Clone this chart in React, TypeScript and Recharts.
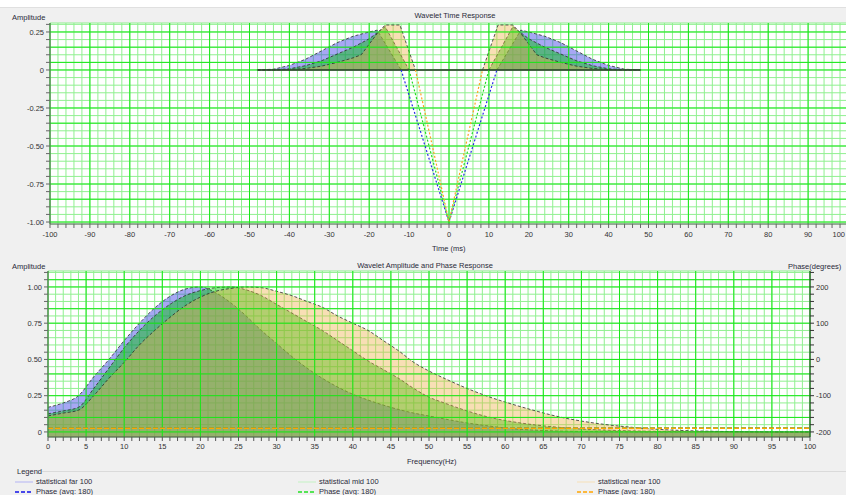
import React from "react";
import { ComposedChart, Area, Line, XAxis, YAxis, CartesianGrid, ReferenceLine } from "recharts";

// Wavelet time response (ms -> amplitude)
const farTime = [-48, -44, -40, -36, -32, -28, -24, -20, -18, -12, -6, 0, 6, 12, 18, 20, 24, 28, 32, 36, 40, 44, 48];
const farAmp = [0, 0.005, 0.03, 0.07, 0.125, 0.18, 0.222, 0.25, 0.262, 0, -0.5, -1, -0.5, 0, 0.262, 0.25, 0.222, 0.18, 0.125, 0.07, 0.03, 0.005, 0];
const midTime = [-48, -44, -40, -36, -32, -28, -24, -20, -16, -10, -5, 0, 5, 10, 16, 20, 24, 28, 32, 36, 40, 44, 48];
const midAmp = [0, 0, 0.008, 0.028, 0.06, 0.105, 0.15, 0.205, 0.285, 0, -0.5, -1, -0.5, 0, 0.285, 0.205, 0.15, 0.105, 0.06, 0.028, 0.008, 0, 0];
const nearTime = [-48, -44, -40, -36, -32, -28, -24, -22, -20, -18, -16, -12.3, -8.4, -4, 0, 4, 8.4, 12.3, 16, 18, 20, 22, 24, 28, 32, 36, 40, 44, 48];
const nearAmp = [0, 0, 0.003, 0.01, 0.025, 0.05, 0.08, 0.1, 0.17, 0.24, 0.296, 0.296, 0, -0.52, -1, -0.52, 0, 0.296, 0.296, 0.24, 0.17, 0.1, 0.08, 0.05, 0.025, 0.01, 0.003, 0, 0];

// Wavelet amplitude spectrum (Hz -> normalised amplitude)
const freq = [0, 2, 4, 6, 8, 10, 12, 14, 16, 18, 20, 22, 24, 26, 28, 30, 32, 34, 36, 38, 40, 42, 44, 46, 48, 50, 52, 55, 58, 61, 64, 67, 70, 73, 76, 80, 85, 90, 95, 100];
const farSpec = [0.17, 0.2, 0.25, 0.38, 0.5, 0.63, 0.75, 0.855, 0.935, 0.985, 1.0, 0.96, 0.89, 0.8, 0.7, 0.61, 0.52, 0.44, 0.37, 0.31, 0.26, 0.22, 0.185, 0.155, 0.13, 0.11, 0.09, 0.062, 0.04, 0.022, 0.012, 0.006, 0.003, 0.002, 0.001, 0, 0, 0, 0, 0];
const midSpec = [0.125, 0.145, 0.17, 0.3, 0.44, 0.58, 0.7, 0.8, 0.88, 0.94, 0.975, 0.995, 1.0, 0.98, 0.94, 0.88, 0.82, 0.76, 0.7, 0.63, 0.56, 0.49, 0.43, 0.37, 0.3, 0.24, 0.2, 0.145, 0.1, 0.07, 0.048, 0.032, 0.02, 0.013, 0.008, 0.004, 0.002, 0.001, 0, 0];
const nearSpec = [0.11, 0.13, 0.15, 0.25, 0.37, 0.48, 0.6, 0.7, 0.79, 0.87, 0.93, 0.97, 0.99, 1.0, 0.995, 0.97, 0.94, 0.9, 0.86, 0.8, 0.75, 0.7, 0.63, 0.56, 0.48, 0.42, 0.37, 0.3, 0.24, 0.19, 0.145, 0.105, 0.075, 0.052, 0.035, 0.018, 0.007, 0.002, 0, 0];

// Phase (degrees), flat
const phaseFreq = [0, 100];
const phaseFar = [-190, -190];
const phaseMid = [-190, -190];
const phaseNear = [-190, -190];

// tick labels
const timeLabels = [-100, -90, -80, -70, -60, -50, -40, -30, -20, -10, 0, 10, 20, 30, 40, 50, 60, 70, 80, 90, 100];
const freqLabels = [0, 5, 10, 15, 20, 25, 30, 35, 40, 45, 50, 55, 60, 65, 70, 75, 80, 85, 90, 95, 100];
const phaseLabels = [-200, -100, 0, 100, 200];

const timeTicks = Array.from({ length: 101 }, (_, i) => -100 + i * 2);
const freqTicks = Array.from({ length: 101 }, (_, i) => i);
const topAmpTicks = Array.from({ length: 27 }, (_, i) => Math.round((-1 + i * 0.05) * 100) / 100);
const botAmpTicks = Array.from({ length: 23 }, (_, i) => Math.round(i * 0.05 * 100) / 100);
const phaseTicks = Array.from({ length: 23 }, (_, i) => -200 + i * 20);

const FAR = "#3c3ce6";
const MID = "#00c000";
const NEAR = "#eeb046";
const MINOR = "#90f090";
const MAJOR = "#18e818";
const font = '"Liberation Sans", Arial, sans-serif';
const tickStyle = { fontSize: 7.5, fill: "#333", fontFamily: font };

type Row = { [k: string]: number };

function addRows(map: Map<number, Row>, key: string, xKey: string, xs: number[], ys: number[]) {
  xs.forEach((x, i) => {
    const r = map.get(x) ?? { [xKey]: x };
    r[key] = ys[i];
    map.set(x, r);
  });
}

// split a wavelet into left lobe, trough and right lobe
function splitWavelet(ts: number[], as: number[]) {
  const first = as.findIndex((a) => a < 0) - 1;
  let last = as.length - 1;
  while (as[last] >= 0) last--;
  last += 1;
  return {
    left: [ts.slice(0, first + 1), as.slice(0, first + 1)],
    trough: [ts.slice(first, last + 1), as.slice(first, last + 1)],
    right: [ts.slice(last), as.slice(last)],
  };
}

const timeMap = new Map<number, Row>();
[["far", farTime, farAmp], ["mid", midTime, midAmp], ["near", nearTime, nearAmp]].forEach(([k, ts, as]) => {
  const s = splitWavelet(ts as number[], as as number[]);
  addRows(timeMap, k + "L", "t", s.left[0], s.left[1]);
  addRows(timeMap, k + "N", "t", s.trough[0], s.trough[1]);
  addRows(timeMap, k + "R", "t", s.right[0], s.right[1]);
});
const timeRows = [...timeMap.values()].sort((a, b) => a.t - b.t);

const freqMap = new Map<number, Row>();
addRows(freqMap, "far", "f", freq, farSpec);
addRows(freqMap, "mid", "f", freq, midSpec);
addRows(freqMap, "near", "f", freq, nearSpec);
addRows(freqMap, "pFar", "f", phaseFreq, phaseFar);
addRows(freqMap, "pMid", "f", phaseFreq, phaseMid);
addRows(freqMap, "pNear", "f", phaseFreq, phaseNear);
const freqRows = [...freqMap.values()].sort((a, b) => a.f - b.f);

const ampFmt = (v: number) => {
  const r = Math.round(v * 100);
  if (r % 25 !== 0) return "";
  return r === 0 ? "0" : v.toFixed(2);
};

// last time label sits on the page edge, keep it inside
const TimeTick = (props: any) => {
  const { x, y, payload } = props;
  const v = payload.value as number;
  const text = timeLabels.includes(v) ? String(v) : "";
  const atEdge = x > 836;
  return (
    <text x={atEdge ? 845 : x} y={y} dy="0.71em" textAnchor={atEdge ? "end" : "middle"} {...tickStyle}>
      {text}
    </text>
  );
};

const lbl = (left: number, top: number, text: string, extra: React.CSSProperties = {}) => (
  <div style={{ position: "absolute", left, top, fontSize: 7.5, color: "#2a2a3a", fontFamily: font, whiteSpace: "nowrap", lineHeight: "9px", ...extra }}>
    {text}
  </div>
);

function LegendItem({ x, y, color, dashed, text }: { x: number; y: number; color: string; dashed?: boolean; text: string }) {
  return (
    <div style={{ position: "absolute", left: x, top: y, display: "flex", alignItems: "center", fontSize: 7.5, fontFamily: font, color: "#2a2a3a" }}>
      <svg width={20} height={6}>
        <line x1={1} y1={3} x2={19} y2={3} stroke={color} strokeWidth={dashed ? 1.5 : 1} strokeDasharray={dashed ? "4 2" : undefined} />
      </svg>
      <span style={{ marginLeft: 2 }}>{text}</span>
    </div>
  );
}

export default function App() {
  const edge = { stroke: "#2b2b2b", strokeWidth: 0.8, strokeDasharray: "3 2" };
  return (
    <div style={{ position: "absolute", left: 0, top: 0, width: 846, height: 495, overflow: "hidden", background: "#f0f0f0", fontFamily: font }}>
      <div style={{ position: "absolute", left: 0, top: 0, width: 846, height: 7, background: "#fff", borderBottom: "1px solid #e0e0e0" }} />

      {/* top: time response */}
      {lbl(12, 13, "Amplitude")}
      {lbl(380, 11, "Wavelet Time Response", { width: 150, textAlign: "center" })}
      {lbl(432, 244, "Time (ms)")}
      <div style={{ position: "absolute", left: 0, top: 0 }}>
        <ComposedChart width={852} height={250} data={timeRows} margin={{ top: 23, right: 4, bottom: 8, left: 0 }}>
          <CartesianGrid stroke={MINOR} fill="#fff" fillOpacity={1} />
          {timeLabels.map((v) => (
            <ReferenceLine key={"tx" + v} x={v} stroke={MAJOR} strokeWidth={1} />
          ))}
          {[0.25, 0.15, 0.05, 0, -0.25, -0.35, -0.5, -0.75, -0.85, -1].map((v) => (
            <ReferenceLine key={"ty" + v} y={v} stroke={MAJOR} strokeWidth={1} />
          ))}
          <XAxis type="number" dataKey="t" domain={[-100, 100]} ticks={timeTicks} interval={0} allowDataOverflow
            tick={<TimeTick />} tickSize={4} tickMargin={4} height={18} stroke="#666" />
          <YAxis type="number" domain={[-1.013, 0.309]} ticks={topAmpTicks} interval={0} allowDataOverflow
            tickFormatter={ampFmt} tick={tickStyle} tickSize={4} width={50} stroke="#666" />
          <ReferenceLine segment={[{ x: farTime[0], y: 0 }, { x: farTime[farTime.length - 1], y: 0 }]} stroke="#333" strokeWidth={1.5} />
          <Area type="linear" dataKey="farL" connectNulls baseValue={0} fill={FAR} fillOpacity={0.45} {...edge} isAnimationActive={false} />
          <Area type="linear" dataKey="farR" connectNulls baseValue={0} fill={FAR} fillOpacity={0.45} {...edge} isAnimationActive={false} />
          <Area type="linear" dataKey="midL" connectNulls baseValue={0} fill={MID} fillOpacity={0.45} {...edge} isAnimationActive={false} />
          <Area type="linear" dataKey="midR" connectNulls baseValue={0} fill={MID} fillOpacity={0.45} {...edge} isAnimationActive={false} />
          <Area type="linear" dataKey="nearL" connectNulls baseValue={0} fill={NEAR} fillOpacity={0.4} {...edge} isAnimationActive={false} />
          <Area type="linear" dataKey="nearR" connectNulls baseValue={0} fill={NEAR} fillOpacity={0.4} {...edge} isAnimationActive={false} />
          <Line type="linear" dataKey="farN" connectNulls dot={false} stroke="#2a2ae8" strokeWidth={1.2} strokeDasharray="2 2" isAnimationActive={false} />
          <Line type="linear" dataKey="midN" connectNulls dot={false} stroke="#22dd22" strokeWidth={1.2} strokeDasharray="2 2" isAnimationActive={false} />
          <Line type="linear" dataKey="nearN" connectNulls dot={false} stroke="#ffa020" strokeWidth={1.2} strokeDasharray="2 2" isAnimationActive={false} />
        </ComposedChart>
      </div>

      {/* bottom: amplitude and phase */}
      {lbl(12, 262, "Amplitude")}
      {lbl(350, 261, "Wavelet Amplitude and Phase Response", { width: 150, textAlign: "center" })}
      {lbl(788, 262, "Phase(degrees)")}
      {lbl(407, 457, "Frequency(Hz)")}
      <div style={{ position: "absolute", left: 0, top: 255 }}>
        <ComposedChart width={846} height={205} data={freqRows} margin={{ top: 16, right: 0, bottom: 5, left: 0 }}>
          <CartesianGrid yAxisId="amp" stroke={MINOR} fill="#fff" fillOpacity={1} />
          {freqLabels.map((v) => (
            <ReferenceLine key={"fx" + v} yAxisId="amp" x={v} stroke={MAJOR} strokeWidth={1} />
          ))}
          {[0, 0.1, 0.25, 0.4, 0.5, 0.75, 0.85, 1, 1.05].map((v) => (
            <ReferenceLine key={"fy" + v} yAxisId="amp" y={v} stroke={MAJOR} strokeWidth={1} />
          ))}
          <XAxis type="number" dataKey="f" domain={[0, 100]} ticks={freqTicks} interval={0} allowDataOverflow
            tickFormatter={(v: number) => (v % 5 === 0 ? String(v) : "")} tick={tickStyle} tickSize={4} tickMargin={3} height={18} stroke="#555" />
          <YAxis yAxisId="amp" type="number" domain={[-0.035, 1.11]} ticks={botAmpTicks} interval={0} allowDataOverflow
            tickFormatter={ampFmt} tick={tickStyle} tickSize={4} width={48} stroke="#666" />
          <YAxis yAxisId="phase" orientation="right" type="number" domain={[-214, 244]} ticks={phaseTicks} interval={0} allowDataOverflow
            tickFormatter={(v: number) => (phaseLabels.includes(v) ? String(v) : "")} tick={tickStyle} tickSize={4} width={36} stroke="#333" />
          <Area yAxisId="amp" type="monotone" dataKey="far" connectNulls baseValue="dataMin" fill={FAR} fillOpacity={0.45} {...edge} isAnimationActive={false} />
          <Area yAxisId="amp" type="monotone" dataKey="mid" connectNulls baseValue="dataMin" fill={MID} fillOpacity={0.45} {...edge} isAnimationActive={false} />
          <Area yAxisId="amp" type="monotone" dataKey="near" connectNulls baseValue="dataMin" fill={NEAR} fillOpacity={0.4} {...edge} isAnimationActive={false} />
          <Line yAxisId="phase" type="linear" dataKey="pFar" connectNulls dot={false} stroke="#2020e0" strokeWidth={1.5} strokeDasharray="5 2" isAnimationActive={false} />
          <Line yAxisId="phase" type="linear" dataKey="pMid" connectNulls dot={false} stroke="#20e020" strokeWidth={1.5} strokeDasharray="5 2" isAnimationActive={false} />
          <Line yAxisId="phase" type="linear" dataKey="pNear" connectNulls dot={false} stroke="#ffa500" strokeWidth={1.5} strokeDasharray="5 2" isAnimationActive={false} />
        </ComposedChart>
      </div>

      {/* legend */}
      {lbl(17, 467, "Legend")}
      <div style={{ position: "absolute", left: 42, top: 471, width: 804, height: 1, background: "#dadada" }} />
      <LegendItem x={14} y={477} color="#b4b4f4" text="statistical far 100" />
      <LegendItem x={14} y={487} color="#1010e8" dashed text="Phase (avg: 180)" />
      <LegendItem x={297} y={477} color="#c4f2c4" text="statistical mid 100" />
      <LegendItem x={297} y={487} color="#22e022" dashed text="Phase (avg: 180)" />
      <LegendItem x={576} y={477} color="#f6e0b8" text="statistical near 100" />
      <LegendItem x={576} y={487} color="#ffa500" dashed text="Phase (avg: 180)" />
    </div>
  );
}
